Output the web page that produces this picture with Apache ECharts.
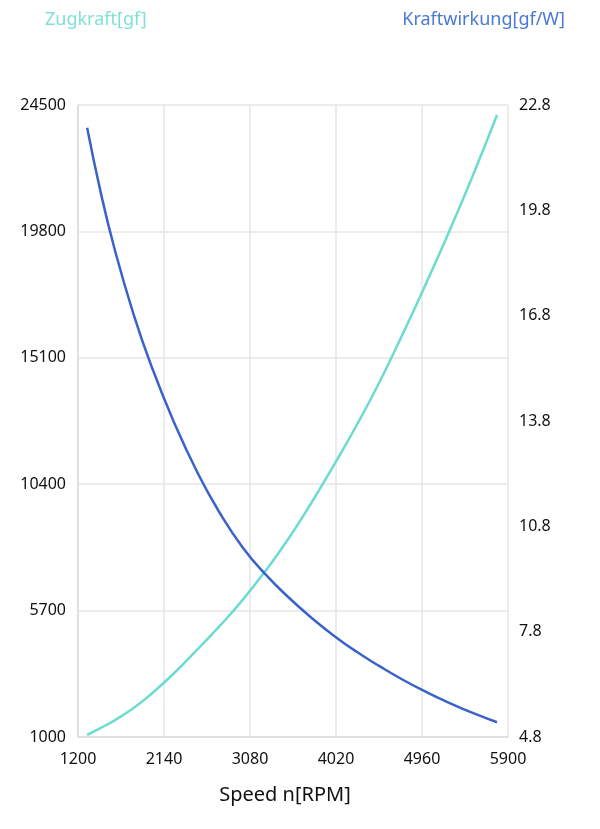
<!DOCTYPE html>
<html>
<head>
<meta charset="utf-8">
<script src="https://cdn.jsdelivr.net/npm/echarts@6/dist/echarts.min.js"></script>
<style>
  html, body { margin: 0; padding: 0; background: #fff; }
  #main { width: 600px; height: 829px; }
</style>
</head>
<body>
<div id="main"></div>
<script>
// speed in RPM
const speed = [1300, 1450, 1600, 1800, 2000, 2250, 2500, 2750, 3000, 3250,
               3500, 3750, 4000, 4250, 4500, 4750, 5000, 5250, 5500, 5780];
// thrust gf (left axis)
const zugkraft = [1080, 1340, 1620, 2060, 2600, 3370, 4240, 5130, 6100, 7180,
                  8370, 9700, 11130, 12620, 14230, 15990, 17830, 19740, 21750, 24130];
// efficiency gf/W (right axis)
const kraftwirkung = [22.15, 20.29, 18.7, 16.9, 15.38, 13.76, 12.36, 11.18, 10.2, 9.43,
                      8.78, 8.2, 7.68, 7.22, 6.81, 6.43, 6.09, 5.78, 5.5, 5.22];

const xTicks = [1200, 2140, 3080, 4020, 4960, 5900];
const leftTicks = [1000, 5700, 10400, 15100, 19800, 24500];
const rightTicks = [4.8, 7.8, 10.8, 13.8, 16.8, 19.8, 22.8];

const cTurq = '#6cdcd0';
const cBlue = '#3a63c9';
const fontFam = '"Noto Sans", sans-serif';

let chart = echarts.init(document.getElementById('main'));

let option = {
  animation: false,
  title: [
    {
      text: 'Zugkraft[gf]',
      left: 45,
      top: 11,
      padding: 0,
      textStyle: { color: '#7fe0d6', fontSize: 18, fontWeight: 'normal', fontFamily: fontFam }
    },
    {
      text: 'Kraftwirkung[gf/W]',
      right: 35,
      top: 11,
      padding: 0,
      textStyle: { color: '#4a78d6', fontSize: 18, fontWeight: 'normal', fontFamily: fontFam }
    }
  ],
  grid: {
    left: 78,
    right: 92,
    top: 105,
    bottom: 92
  },
  xAxis: {
    type: 'value',
    min: 1200,
    max: 5900,
    name: 'Speed n[RPM]',
    nameLocation: 'middle',
    nameGap: 48,
    nameTextStyle: { color: '#111', fontSize: 20, fontFamily: fontFam, padding: [0, 16, 0, 0] },
    axisLine: { show: true, lineStyle: { color: '#dcdcdc', width: 1.5 } },
    axisTick: { show: false, customValues: xTicks },
    axisLabel: {
      customValues: xTicks, color: '#111', fontSize: 16, fontFamily: fontFam, margin: 14,
      formatter: function (v) { return String(v); }
    },
    splitLine: { show: true, lineStyle: { color: '#e6e6e6', width: 1.5 } }
  },
  yAxis: [
    {
      type: 'value',
      min: 1000,
      max: 24500,
      position: 'left',
      axisLine: { show: true, lineStyle: { color: '#dcdcdc', width: 1.5 } },
      axisTick: { show: false, customValues: leftTicks },
      axisLabel: {
        customValues: leftTicks, color: '#111', fontSize: 16, fontFamily: fontFam, margin: 12,
        formatter: function (v) { return String(v); }
      },
      splitLine: { show: true, lineStyle: { color: '#e6e6e6', width: 1.5 } }
    },
    {
      type: 'value',
      min: 4.8,
      max: 22.8,
      position: 'right',
      axisLine: { show: false },
      axisTick: { show: false, customValues: rightTicks },
      axisLabel: {
        customValues: rightTicks,
        color: '#111',
        fontSize: 16,
        fontFamily: fontFam,
        margin: 11,
        formatter: function (v) { return v.toFixed(1); }
      },
      splitLine: { show: false }
    }
  ],
  series: [
    {
      name: 'Zugkraft[gf]',
      type: 'line',
      yAxisIndex: 0,
      smooth: true,
      showSymbol: false,
      lineStyle: { color: cTurq, width: 2.5 },
      itemStyle: { color: cTurq },
      data: speed.map((s, i) => [s, zugkraft[i]])
    },
    {
      name: 'Kraftwirkung[gf/W]',
      type: 'line',
      yAxisIndex: 1,
      smooth: true,
      showSymbol: false,
      lineStyle: { color: cBlue, width: 2.5 },
      itemStyle: { color: cBlue },
      data: speed.map((s, i) => [s, kraftwirkung[i]])
    }
  ]
};

chart.setOption(option);
</script>
</body>
</html>
